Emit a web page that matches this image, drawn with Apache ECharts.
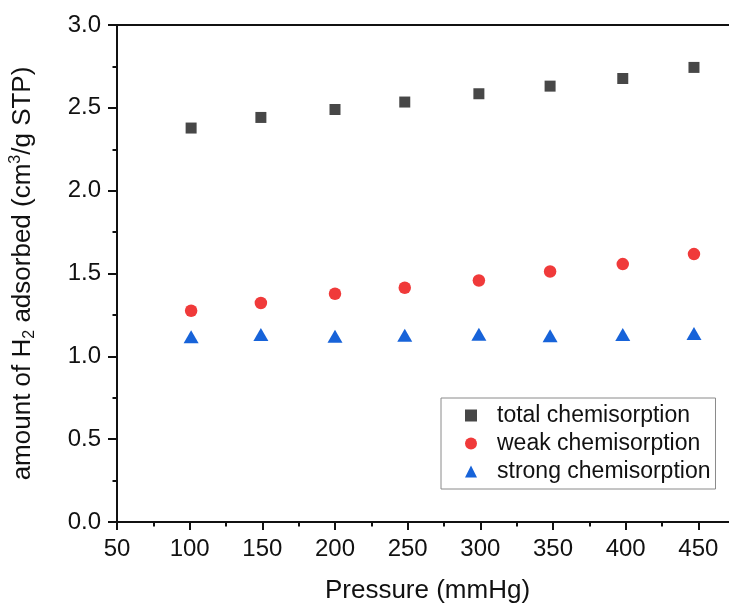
<!DOCTYPE html>
<html><head><meta charset="utf-8">
<script src="https://cdn.jsdelivr.net/npm/echarts@6/dist/echarts.min.js"></script>
<style>html,body{margin:0;padding:0;background:#fff}#c{width:729px;height:605px}</style>
</head><body><div id="c"></div>
<script>
const pressure = [101, 149, 200, 248, 299, 348, 398, 447];
const totalChem = [2.378, 2.442, 2.490, 2.535, 2.585, 2.631, 2.677, 2.744];
const weakChem = [1.275, 1.322, 1.378, 1.414, 1.458, 1.512, 1.557, 1.617];
const strongChem = [1.118, 1.132, 1.121, 1.127, 1.133, 1.125, 1.132, 1.138];
const seriesNames = ['total chemisorption', 'weak chemisorption', 'strong chemisorption'];
const xTickLabels = [50, 100, 150, 200, 250, 300, 350, 400, 450];
const yTickLabels = ['0.0', '0.5', '1.0', '1.5', '2.0', '2.5', '3.0'];

const FONT = '"Liberation Sans", Arial, sans-serif';
const AX = '#111';
const pair = (xs, ys) => xs.map((x, i) => [x, ys[i]]);

const chart = echarts.init(document.getElementById('c'), null, {renderer: 'canvas'});
chart.setOption({
  animation: false,
  backgroundColor: '#fff',
  textStyle: {fontFamily: FONT},
  grid: {show: true, borderColor: AX, borderWidth: 2, left: 117, top: 25, height: 497, width: 654,
    containLabel: false, outerBoundsMode: 'none'},
  xAxis: {
    type: 'value', min: 50, max: 500, interval: 50,
    name: 'Pressure (mmHg)', nameLocation: 'middle', nameGap: 56,
    nameTextStyle: {fontSize: 26, color: AX, fontFamily: FONT, padding: [0, 33, 0, 0]},
    axisLine: {show: true, lineStyle: {color: AX, width: 2}},
    axisTick: {show: true, inside: false, length: 8, lineStyle: {color: AX, width: 2}},
    minorTick: {show: true, splitNumber: 2, length: 4.5, lineStyle: {color: AX, width: 2}},
    splitLine: {show: false}, minorSplitLine: {show: false},
    axisLabel: {fontSize: 24, color: AX, fontFamily: FONT, margin: 15, showMaxLabel: false,
      formatter: v => (xTickLabels.indexOf(v) >= 0 ? String(v) : '')}
  },
  yAxis: {
    type: 'value', min: 0, max: 3, interval: 0.5,
    name: '{a|amount of H}{sub|2}{a| adsorbed (cm}{sup|3}{a|/g STP)}',
    nameLocation: 'middle', nameGap: 79, nameRotate: 90,
    nameTextStyle: {color: AX, fontFamily: FONT, fontSize: 26,
      rich: {
        a: {fontSize: 26, lineHeight: 30, color: AX, fontFamily: FONT},
        sub: {fontSize: 16, lineHeight: 14, verticalAlign: 'bottom', color: AX, fontFamily: FONT},
        sup: {fontSize: 16, lineHeight: 22, verticalAlign: 'top', color: AX, fontFamily: FONT}
      }},
    axisLine: {show: true, lineStyle: {color: AX, width: 2}},
    axisTick: {show: true, inside: false, length: 9, lineStyle: {color: AX, width: 2}},
    minorTick: {show: true, splitNumber: 2, length: 4.5, lineStyle: {color: AX, width: 2}},
    splitLine: {show: false}, minorSplitLine: {show: false},
    axisLabel: {fontSize: 24, color: AX, fontFamily: FONT, margin: 16,
      formatter: v => yTickLabels[Math.round(v / 0.5)] || ''}
  },
  legend: {
    orient: 'vertical', left: 441, top: 398,
    padding: [5, 5, 5, 24],
    itemWidth: 12, itemHeight: 12, itemGap: 3,
    borderColor: '#8a8a8a', borderWidth: 1, borderRadius: 0,
    textStyle: {fontSize: 23, lineHeight: 25, color: AX, fontFamily: FONT, padding: [0, 0, 0, 15]},
    data: [
      {name: seriesNames[0], icon: 'rect'},
      {name: seriesNames[1], icon: 'circle'},
      {name: seriesNames[2], icon: 'triangle'}
    ]
  },
  series: [
    {name: seriesNames[0], type: 'scatter', symbol: 'rect', symbolSize: 11,
      itemStyle: {color: '#474747', opacity: 1}, data: pair(pressure, totalChem)},
    {name: seriesNames[1], type: 'scatter', symbol: 'circle', symbolSize: 12.5,
      itemStyle: {color: '#f03a3a', opacity: 1}, data: pair(pressure, weakChem)},
    {name: seriesNames[2], type: 'scatter', symbol: 'triangle', symbolSize: [15, 13],
      itemStyle: {color: '#1763d9', opacity: 1}, data: pair(pressure, strongChem)}
  ]
});
</script>
</body></html>
